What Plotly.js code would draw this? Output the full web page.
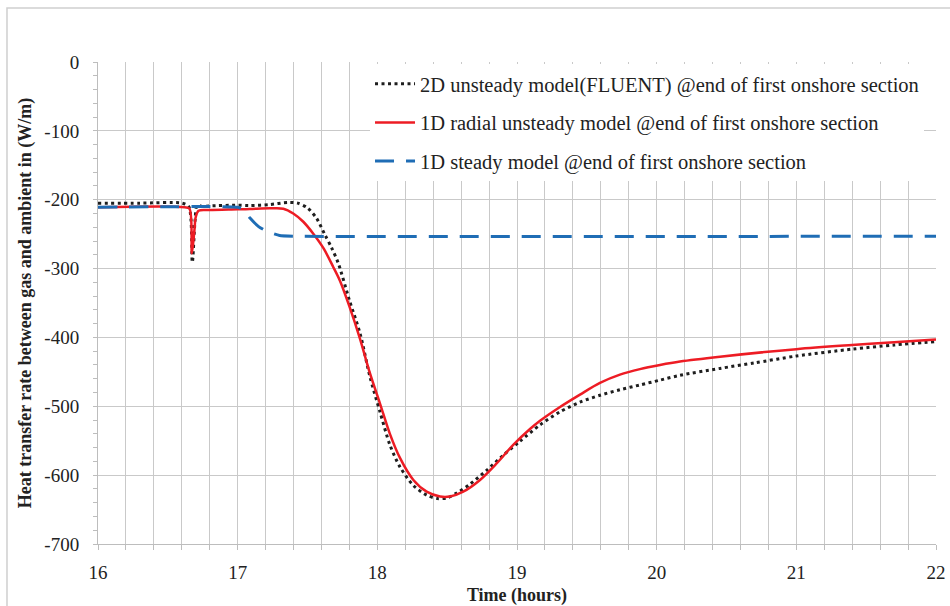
<!DOCTYPE html>
<html>
<head>
<meta charset="utf-8">
<script src="https://cdn.plot.ly/plotly-3.0.1.min.js"></script>
<style>
html,body{margin:0;padding:0;background:#fff;}
#chart{width:950px;height:606px;}
</style>
</head>
<body>
<div id="chart"></div>
<script>
// 2D unsteady model (FLUENT)
const t2D = [16.0,16.3,16.6,16.65,16.675,16.695,16.71,16.75,16.8,17.0,17.088,17.23,17.36,17.43,17.5,17.565,17.625,17.673,17.72,17.8,17.876,17.947,18.019,18.09,18.162,18.258,18.353,18.43,18.5,18.568,18.664,18.783,18.902,19.02,19.165,19.308,19.451,19.594,19.737,19.88,20.024,20.167,20.453,20.7,21.0,21.4,21.7,22.0];
const q2D = [-205,-205,-205,-210,-291,-230,-208,-210,-209,-208,-208.5,-207,-204,-205,-212,-227,-251,-270,-292,-346,-394,-457,-508,-556,-588,-615,-629,-634,-633,-626,-613,-593,-571,-551,-527,-508,-494,-484,-476,-469,-462,-455,-445,-437,-427,-417,-411,-406];
// 1D radial unsteady model
const tRad = [16.0,16.62,16.655,16.672,16.69,16.70,16.72,16.8,17.0,17.088,17.231,17.327,17.398,17.47,17.54,17.613,17.685,17.733,17.8,17.876,17.947,18.019,18.09,18.162,18.258,18.353,18.449,18.52,18.615,18.735,18.854,18.973,19.093,19.165,19.308,19.451,19.594,19.737,19.88,20.024,20.167,20.453,21.0,21.4,21.7,22.0];
const qRad = [-211,-211,-213,-278,-245,-225,-216,-215,-214,-213.5,-212.5,-213,-220,-232,-249,-270,-298,-318,-355,-402,-452,-496,-540,-575,-607,-624,-631,-631,-624,-607,-583,-556,-533,-521,-501,-483,-466,-454,-446,-440,-435,-428,-417,-411,-407,-403];
// 1D steady model
const tSteady = [16.0,17.0,17.04,17.09,17.15,17.21,17.3,17.4,22.0];
const qSteady = [-211,-211,-214,-227,-239,-246,-252,-253,-253];

const names = [
  "2D unsteady model(FLUENT) @end of first onshore section",
  "1D radial unsteady model @end of first onshore section",
  "1D steady model @end of first onshore section"
];
const xTicks = [16,17,18,19,20,21,22];
const yTicks = [0,-100,-200,-300,-400,-500,-600,-700];

const serif = "Liberation Serif, Times New Roman, serif";
const gridC = "#c9c9c9";

const traces = [
  {x:t2D, y:q2D, name:names[0], mode:"lines", legendgroup:"a",
   line:{color:"#1e1e1e", width:3, dash:"3px,3.5px", shape:"spline", smoothing:0.8}},
  {x:tRad, y:qRad, name:names[1], mode:"lines", legendgroup:"b",
   line:{color:"#ed1c24", width:2.5, shape:"spline", smoothing:0.9}},
  {x:tSteady, y:qSteady, name:names[2], mode:"lines", legendgroup:"c",
   line:{color:"#1f6db5", width:3, dash:"19px,12px", shape:"spline", smoothing:0.5}}
];

const layout = {
  width:950, height:606,
  margin:{l:98, r:14, t:62, b:62},
  paper_bgcolor:"#fff", plot_bgcolor:"#fff",
  font:{family:serif, color:"#222", size:19},
  showlegend:true,
  legend:{x:0.3246, y:0.996, xanchor:"left", yanchor:"top", bgcolor:"#fff",
          borderwidth:0, itemwidth:40, font:{family:serif, size:20.5, color:"#222"},
          traceorder:"grouped", tracegroupgap:9},
  xaxis:{range:[16,22], tickvals:xTicks, ticktext:xTicks.map(String),
         showgrid:true, gridcolor:gridC, gridwidth:1,
         showline:true, linecolor:"#bdbdbd", linewidth:1,
         ticks:"outside", ticklen:5, tickcolor:"#bdbdbd",
         minor:{dtick:0.2, tick0:16, showgrid:true, gridcolor:gridC, gridwidth:1,
                ticks:"outside", ticklen:5, tickcolor:"#bdbdbd"},
         zeroline:false, ticklabelstandoff:6,
         tickfont:{family:serif, size:19, color:"#222"},
         title:{text:"<b>Time (hours)</b>", font:{family:serif, size:18, color:"#222"}, standoff:6}},
  yaxis:{range:[-700,0], tickvals:yTicks, ticktext:yTicks.map(String),
         showgrid:true, gridcolor:gridC, gridwidth:1,
         showline:true, linecolor:"#bdbdbd", linewidth:1,
         ticks:"outside", ticklen:4, tickcolor:"#bdbdbd",
         minor:{dtick:20, tick0:0, showgrid:false, ticks:"outside", ticklen:4, tickcolor:"#bdbdbd"},
         zeroline:false, ticklabelstandoff:10,
         tickfont:{family:serif, size:19, color:"#222"},
         title:{text:"<b>Heat transfer rate between gas and ambient in (W/m)</b>", font:{family:serif, size:18, color:"#222"}, standoff:8}},
  shapes:[
    {type:"rect", xref:"paper", yref:"paper", x0:-0.1086, x1:1.05, y0:-0.3, y1:1.112,
     line:{color:"#cfcfcf", width:1.5}, fillcolor:"rgba(0,0,0,0)", layer:"below"}
  ]
};

Plotly.newPlot("chart", traces, layout, {displayModeBar:false, staticPlot:true});
</script>
</body>
</html>
